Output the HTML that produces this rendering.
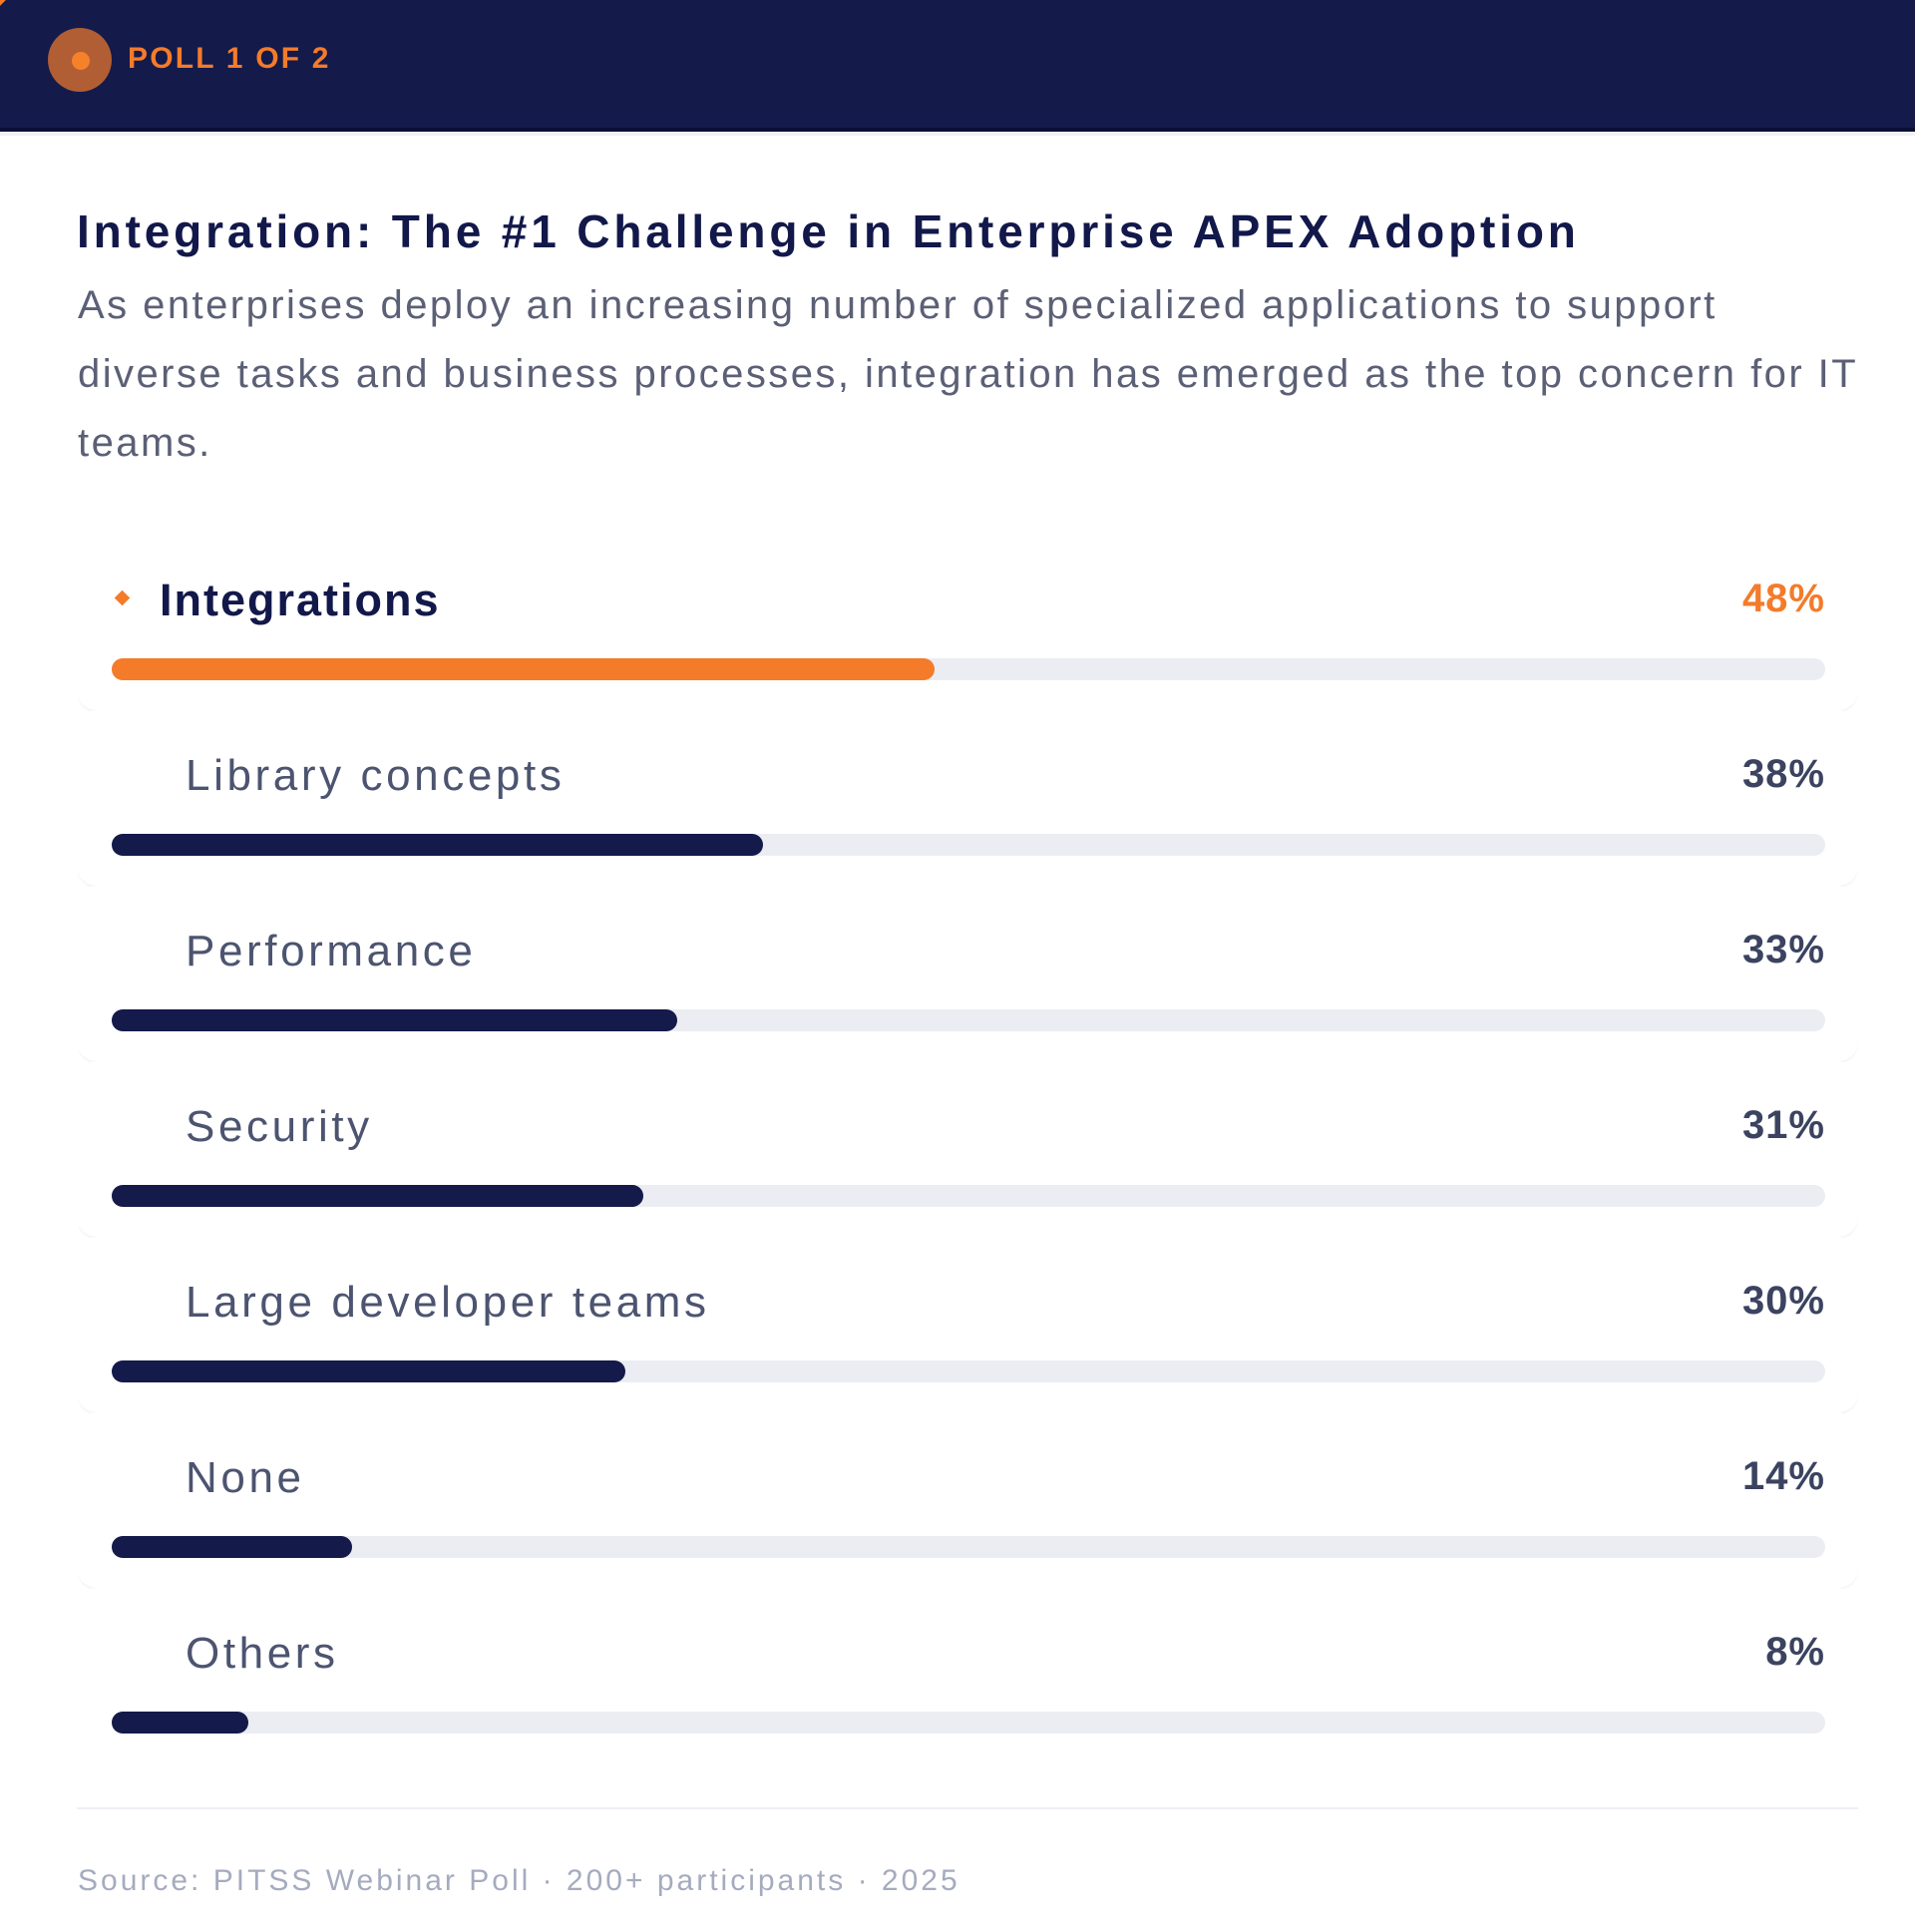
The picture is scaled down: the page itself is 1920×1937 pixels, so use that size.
<!DOCTYPE html>
<html>
<head>
<meta charset="utf-8">
<style>
  html, body { margin:0; padding:0; }
  body { width:1920px; height:1937px; position:relative; background:#ffffff; overflow:hidden;
         font-family:"Liberation Sans", "DejaVu Sans", sans-serif; }
  .abs { position:absolute; white-space:nowrap; }
  .header { position:absolute; left:0; top:0; width:1920px; height:128px; background:#141a4a; border-bottom:4px solid #0b0f35; }
  .hline { position:absolute; left:0; top:132px; width:1920px; height:4px; background:#f1f2f6; }
  .corner { position:absolute; left:-9px; top:-9px; width:14px; height:14px; background:#f47b2a; transform:rotate(45deg); }
  .circ { position:absolute; left:48px; top:28px; width:64px; height:64px; border-radius:50%; background:#b15e34; }
  .dot { position:absolute; left:72px; top:52px; width:18px; height:18px; border-radius:50%; background:#f5822a; }
  .poll { left:128px; top:44px; font-size:30px; line-height:30px; font-weight:bold; color:#f47b2a; letter-spacing:2.2px; }
  .title { left:77px; top:209px; font-size:46px; line-height:46px; font-weight:bold; color:#12184a; letter-spacing:3.85px; }
  .sub { left:78px; top:272px; font-size:40px; line-height:69px; color:#5b6076; letter-spacing:2.45px; }
  .card { position:absolute; left:77px; width:1786px; height:176px; border-radius:20px; background:#fff;
          box-shadow:0 3px 2px -1px rgba(20,26,74,0.06); }
  .lbl { font-size:44px; line-height:44px; color:#4c5470; letter-spacing:3.6px; left:186px; }
  .lbl.top { font-size:45px; line-height:45px; font-weight:bold; color:#12184a; letter-spacing:2px; left:160px; }
  .pct { font-size:40px; line-height:40px; font-weight:bold; color:#3b4360; letter-spacing:1px; right:90px; text-align:right; }
  .pct.top { color:#f47b2a; }
  .track { position:absolute; left:112px; width:1718px; height:22px; border-radius:11px; background:#ecedf3; }
  .fill { position:absolute; left:0; top:0; height:22px; border-radius:11px; background:#141a4a; }
  .fill.top { background:#f47b2a; }
  .diamond { position:absolute; left:117px; width:11px; height:11px; background:#f47b2a; transform:rotate(45deg); }
  .sep { position:absolute; left:77px; top:1812px; width:1786px; height:2px; background:#eef0f4; }
  .foot { left:78px; top:1871px; font-size:30px; line-height:30px; color:#a5abbf; letter-spacing:3px; }
</style>
</head>
<body>
  <div class="header"></div>
  <div class="hline"></div>
  <div class="corner"></div>
  <div class="circ"></div>
  <div class="dot"></div>
  <div class="abs poll">POLL 1 OF 2</div>

  <div class="abs title">Integration: The #1 Challenge in Enterprise APEX Adoption</div>
  <div class="abs sub">As enterprises deploy an increasing number of specialized applications to support<br>diverse tasks and business processes, integration has emerged as the top concern for IT<br>teams.</div>

  <!-- Row 1 -->
  <div class="card" style="top:536px;"></div>
  <div class="diamond" style="top:594px;"></div>
  <div class="abs lbl top" style="top:579px;">Integrations</div>
  <div class="abs pct top" style="top:580px;">48%</div>
  <div class="track" style="top:660px;"><div class="fill top" style="width:825px;"></div></div>

  <!-- Row 2 -->
  <div class="card" style="top:712px;"></div>
  <div class="abs lbl" style="top:756px;">Library concepts</div>
  <div class="abs pct" style="top:756px;">38%</div>
  <div class="track" style="top:836px;"><div class="fill" style="width:653px;"></div></div>

  <!-- Row 3 -->
  <div class="card" style="top:888px;"></div>
  <div class="abs lbl" style="top:932px;">Performance</div>
  <div class="abs pct" style="top:932px;">33%</div>
  <div class="track" style="top:1012px;"><div class="fill" style="width:567px;"></div></div>

  <!-- Row 4 -->
  <div class="card" style="top:1064px;"></div>
  <div class="abs lbl" style="top:1108px;">Security</div>
  <div class="abs pct" style="top:1108px;">31%</div>
  <div class="track" style="top:1188px;"><div class="fill" style="width:533px;"></div></div>

  <!-- Row 5 -->
  <div class="card" style="top:1240px;"></div>
  <div class="abs lbl" style="top:1284px;">Large developer teams</div>
  <div class="abs pct" style="top:1284px;">30%</div>
  <div class="track" style="top:1364px;"><div class="fill" style="width:515px;"></div></div>

  <!-- Row 6 -->
  <div class="card" style="top:1416px;"></div>
  <div class="abs lbl" style="top:1460px;">None</div>
  <div class="abs pct" style="top:1460px;">14%</div>
  <div class="track" style="top:1540px;"><div class="fill" style="width:241px;"></div></div>

  <!-- Row 7 -->
  <div class="card" style="top:1592px; box-shadow:none;"></div>
  <div class="abs lbl" style="top:1636px;">Others</div>
  <div class="abs pct" style="top:1636px;">8%</div>
  <div class="track" style="top:1716px;"><div class="fill" style="width:137px;"></div></div>

  <div class="sep"></div>
  <div class="abs foot">Source: PITSS Webinar Poll · 200+ participants · 2025</div>
</body>
</html>
